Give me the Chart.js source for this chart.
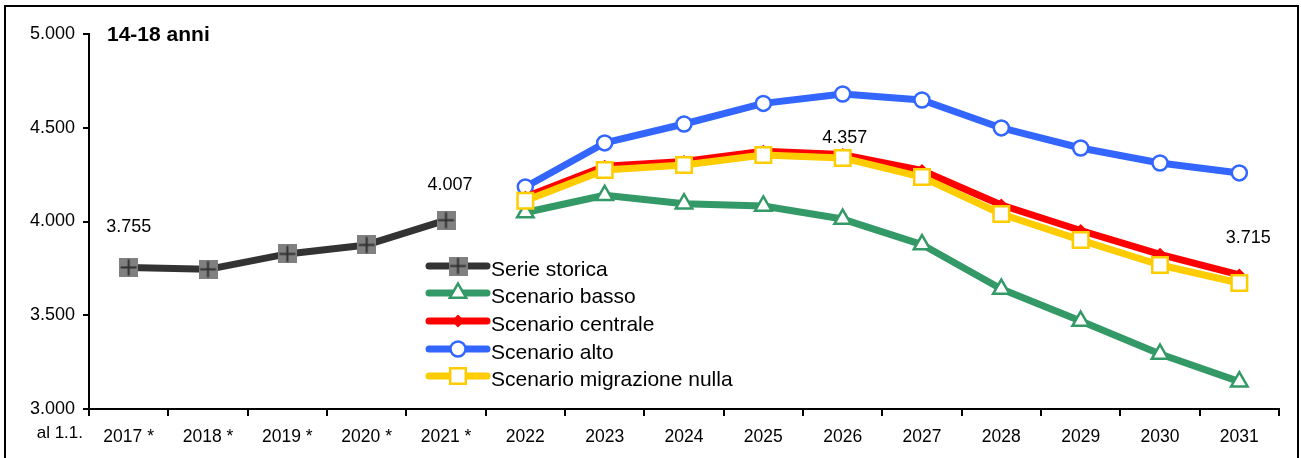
<!DOCTYPE html>
<html><head><meta charset="utf-8">
<script src="https://cdn.jsdelivr.net/npm/chart.js@4.4.1/dist/chart.umd.min.js"></script>
<style>html,body{margin:0;padding:0;background:#fff}#wrap{width:1301px;height:458px;position:relative}</style>
</head><body><div id="wrap"><canvas id="c" width="1301" height="458"></canvas></div>
<script>
const categories = ['2017 *','2018 *','2019 *','2020 *','2021 *','2022','2023','2024','2025','2026','2027','2028','2029','2030','2031'];
const serieStorica = [3755, 3745, 3827, 3875, 4007, null, null, null, null, null, null, null, null, null, null];
const scenarioBasso = [null, null, null, null, null, 4048, 4140, 4095, 4083, 4013, 3877, 3640, 3469, 3293, 3146];
const scenarioCentrale = [null, null, null, null, null, 4130, 4295, 4320, 4375, 4357, 4272, 4088, 3952, 3825, 3715];
const scenarioAlto = [null, null, null, null, null, 4184, 4419, 4520, 4630, 4680, 4648, 4499, 4392, 4312, 4259];
const scenarioNulla = [null, null, null, null, null, 4111, 4275, 4301, 4355, 4339, 4237, 4040, 3901, 3768, 3672];
const yTicks = [3000, 3500, 4000, 4500, 5000];
const seriesNames = ['Serie storica','Scenario basso','Scenario centrale','Scenario alto','Scenario migrazione nulla'];
const titleText = '14-18 anni';
const axisNote = 'al 1.1.';

const FONT = '"Liberation Sans", Arial, Helvetica, sans-serif';
Chart.defaults.font.family = FONT;
Chart.defaults.color = '#000';

function fmt(v){ const s = String(Math.round(v)); return s.length > 3 ? s.slice(0, s.length-3) + '.' + s.slice(-3) : s; }

// gray square with plus marker
function makePlusSquare(){
  const n = 19;
  const c = document.createElement('canvas');
  c.width = n; c.height = n;
  const g = c.getContext('2d');
  g.fillStyle = '#808080';
  g.fillRect(0,0,n,n);
  g.strokeStyle = '#303030';
  g.lineWidth = 2;
  g.beginPath();
  g.moveTo(n/2,1.5); g.lineTo(n/2,n-1.5);
  g.moveTo(1.5,n/2); g.lineTo(n-1.5,n/2);
  g.stroke();
  return c;
}
const plusSquare = makePlusSquare();

const COLORS = {storica:'#333333', basso:'#339966', centrale:'#FF0000', alto:'#3366FF', nulla:'#FFCC00'};

const datasets = [
  {label: seriesNames[0], data: serieStorica, borderColor: COLORS.storica, backgroundColor: COLORS.storica, borderWidth: 7,
   pointStyle: plusSquare, pointRadius: 10, order: 0},
  {label: seriesNames[1], data: scenarioBasso, borderColor: COLORS.basso, backgroundColor: '#fff', borderWidth: 7,
   pointStyle: 'triangle', pointRadius: 9.5, pointBorderWidth: 2.5, pointBorderColor: COLORS.basso, pointBackgroundColor: '#fff', order: 3},
  {label: seriesNames[2], data: scenarioCentrale, borderColor: COLORS.centrale, backgroundColor: COLORS.centrale, borderWidth: 7,
   pointStyle: 'rectRot', pointRadius: 6.5, pointBorderWidth: 0, pointBackgroundColor: COLORS.centrale, order: 2},
  {label: seriesNames[3], data: scenarioAlto, borderColor: COLORS.alto, backgroundColor: '#fff', borderWidth: 7,
   pointStyle: 'circle', pointRadius: 7.5, pointBorderWidth: 2.5, pointBorderColor: COLORS.alto, pointBackgroundColor: '#fff', order: 4},
  {label: seriesNames[4], data: scenarioNulla, borderColor: COLORS.nulla, backgroundColor: '#fff', borderWidth: 7,
   pointStyle: 'rect', pointRadius: 11, pointBorderWidth: 2.5, pointBorderColor: COLORS.nulla, pointBackgroundColor: '#fff', order: 1}
];
datasets.forEach(d => { d.borderJoinStyle = 'round'; d.borderCapStyle = 'round'; d.tension = 0; d.spanGaps = false; d.pointHoverRadius = d.pointRadius; });

// labels: which dataset/index, plus placement offset
const valueLabels = [
  {ds: 0, idx: 0, dx: 0, dy: -40},
  {ds: 0, idx: 4, dx: 4, dy: -35},
  {ds: 2, idx: 9, dx: 2, dy: -17},
  {ds: 2, idx: 14, dx: 9, dy: -37}
];

const decor = {
  id: 'decor',
  beforeDraw(chart){
    const ctx = chart.ctx;
    ctx.save();
    ctx.fillStyle = '#fff';
    ctx.fillRect(0,0,chart.width,chart.height);
    ctx.restore();
  },
  afterDraw(chart){
    const ctx = chart.ctx;
    const xs = chart.scales.x, ys = chart.scales.y;
    ctx.save();
    // outer frame
    ctx.strokeStyle = '#000'; ctx.lineWidth = 2;
    ctx.strokeRect(5, 6, 1293, 520);
    // title
    ctx.fillStyle = '#000';
    ctx.font = 'bold 21px ' + FONT;
    ctx.textAlign = 'left'; ctx.textBaseline = 'alphabetic';
    ctx.fillText(titleText, 107, 41);
    // axis note
    ctx.font = '17px ' + FONT;
    ctx.textAlign = 'right';
    ctx.fillText(axisNote, 83, 438);
    // value labels
    ctx.font = '18px ' + FONT;
    ctx.textAlign = 'center'; ctx.textBaseline = 'middle';
    valueLabels.forEach(l => {
      const v = chart.data.datasets[l.ds].data[l.idx];
      const x = xs.getPixelForValue(l.idx) + l.dx;
      const y = ys.getPixelForValue(v) + l.dy;
      ctx.fillText(fmt(v), x, y);
    });
    // legend
    const lx0 = 429, lx1 = 487, mx = 458, tx = 491;
    const rows = [266, 293, 321, 349, 376];
    chart.data.datasets.forEach((d, i) => {
      const y = rows[i];
      ctx.strokeStyle = d.borderColor; ctx.lineWidth = 7; ctx.lineCap = 'round';
      ctx.beginPath(); ctx.moveTo(lx0, y); ctx.lineTo(lx1, y); ctx.stroke();
      if (d.pointStyle instanceof HTMLCanvasElement) {
        ctx.drawImage(d.pointStyle, mx - d.pointStyle.width/2, y - d.pointStyle.height/2);
      } else {
        ctx.fillStyle = d.pointBackgroundColor;
        ctx.strokeStyle = d.pointBorderColor || d.borderColor;
        ctx.lineWidth = d.pointBorderWidth || 0;
        Chart.helpers.drawPoint(ctx, {pointStyle: d.pointStyle, radius: d.pointRadius, rotation: 0, borderWidth: d.pointBorderWidth || 0}, mx, y);
      }
      ctx.fillStyle = '#000';
      ctx.font = '21px ' + FONT;
      ctx.textAlign = 'left'; ctx.textBaseline = 'middle';
      ctx.fillText(d.label, tx, y + 4);
    });
    ctx.restore();
  }
};

new Chart(document.getElementById('c'), {
  type: 'line',
  data: {labels: categories, datasets},
  options: {
    responsive: false, animation: false, devicePixelRatio: 1,
    layout: {padding: {left: 0, right: 22, top: 34, bottom: 0}},
    plugins: {legend: {display: false}, tooltip: {enabled: false}, title: {display: false}},
    events: [],
    scales: {
      x: {
        type: 'category', offset: true,
        grid: {offset: true, drawOnChartArea: false, drawTicks: true, tickLength: 7, color: '#000', lineWidth: 2},
        border: {display: true, color: '#000', width: 2},
        ticks: {color: '#000', font: {size: 17.5}, padding: 11, maxRotation: 0, autoSkip: false},
        afterFit(s){ s.height = 49; }
      },
      y: {
        min: 3000, max: 5000,
        afterBuildTicks(s){ s.ticks = yTicks.map(v => ({value: v})); },
        grid: {drawOnChartArea: false, drawTicks: true, tickLength: 6, color: '#000', lineWidth: 2},
        border: {display: true, color: '#000', width: 2},
        ticks: {color: '#000', font: {size: 18}, padding: 8, callback: v => fmt(v)},
        afterFit(s){ s.width = 89; }
      }
    }
  },
  plugins: [decor]
});
</script>
</body></html>
